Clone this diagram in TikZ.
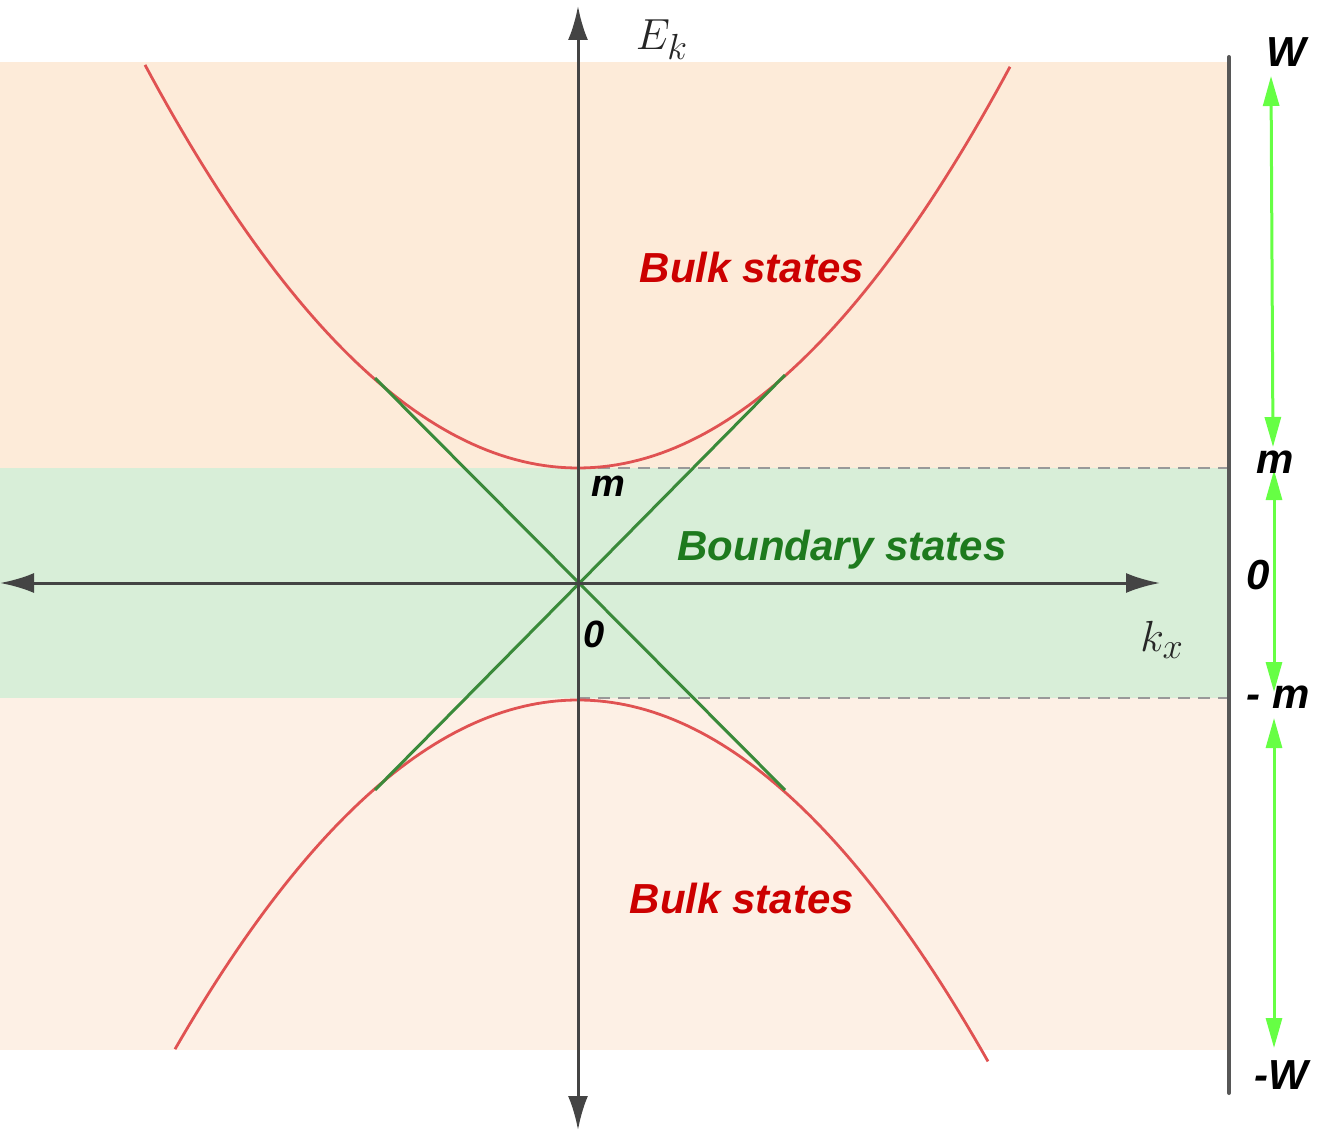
\documentclass[tikz,border=0pt]{standalone}
\usepackage{fontspec}
\setsansfont{Liberation Sans}
\usetikzlibrary{arrows.meta}
\definecolor{peachA}{HTML}{FDEBD9}
\definecolor{peachB}{HTML}{FDF0E5}
\definecolor{bandgreen}{HTML}{D8EED8}
\definecolor{curvered}{HTML}{E05252}
\definecolor{linegreen}{HTML}{3A8A3A}
\definecolor{txtred}{HTML}{CC0000}
\definecolor{txtgreen}{HTML}{1E7A1E}
\definecolor{arrgreen}{HTML}{66FF44}
\definecolor{axisgray}{HTML}{444444}
\tikzset{
  axisboth/.style={draw=axisgray, line width=3pt, {Latex[length=34pt,width=20pt]}-{Latex[length=34pt,width=20pt]}},
  bandcurve/.style={draw=curvered, line width=2.8pt},
  cone/.style={draw=linegreen, line width=3pt},
  dashline/.style={draw=gray!80, line width=2pt, dash pattern=on 12pt off 8pt},
  garrow/.style={draw=arrgreen, line width=3pt, {Triangle[length=30pt,width=16pt]}-{Triangle[length=30pt,width=16pt]}},
  bigtxt/.style={font=\sffamily\bfseries\itshape\fontsize{42}{46}\selectfont, inner sep=0pt},
  lbl/.style={font=\sffamily\bfseries\itshape\fontsize{42}{46}\selectfont, inner sep=0pt},
  smalllbl/.style={font=\sffamily\bfseries\itshape\fontsize{38}{42}\selectfont, inner sep=0pt},
  mathlbl/.style={font=\Huge, scale=1.75, inner sep=0pt, text=black!85}
}
\begin{document}
\begin{tikzpicture}[x=1pt,y=-1pt]
\useasboundingbox (0,0) rectangle (1326,1132);
% background bands
\fill[peachA] (0,62) rectangle (1228,468);
\fill[bandgreen] (0,468) rectangle (1228,698);
\fill[peachB] (0,698) rectangle (1228,1050);
% dashed levels
\coordinate (mtop) at (578,468);
\coordinate (mtopR) at (1228,468);
\coordinate (mbot) at (578,698);
\coordinate (mbotR) at (1228,698);
\draw[dashline] (mtop) -- (mtopR);
\draw[dashline] (mbot) -- (mbotR);
% bands
\draw[bandcurve] plot[domain=-433:432, samples=120] ({578+\x},{468-21.5*(\x/100)*(\x/100)});
\draw[bandcurve] plot[domain=-403:410, samples=120] ({578+\x},{700+21.5*(\x/100)*(\x/100)});
% cone
\coordinate (c1) at (375,378);
\coordinate (c2) at (785,790);
\coordinate (c3) at (375,790);
\coordinate (c4) at (785,375);
\draw[cone] (c1) -- (c2);
\draw[cone] (c3) -- (c4);
% axes
\coordinate (vtop) at (578,6);
\coordinate (vbot) at (578,1130);
\coordinate (hl) at (0,583);
\coordinate (hr) at (1160,583);
\draw[axisboth] (vbot) -- (vtop);
\draw[axisboth] (hl) -- (hr);
% right bar
\coordinate (rt) at (1229,57);
\coordinate (rb) at (1229,1093);
\draw[draw=axisgray!90, line width=4pt, line cap=round] (rt) -- (rb);
% green arrows
\coordinate (g1a) at (1271,76);
\coordinate (g1b) at (1273,447);
\coordinate (g2a) at (1274,470);
\coordinate (g2b) at (1274,692);
\coordinate (g3a) at (1274,718);
\coordinate (g3b) at (1274,1048);
\draw[garrow] (g1a) -- (g1b);
\draw[garrow] (g2a) -- (g2b);
\draw[garrow] (g3a) -- (g3b);
% labels
\node[mathlbl] (ek) at (662,40) {$E_k$};
\node[mathlbl] (kx) at (1162,640) {$k_x$};
\node[bigtxt, text=txtred] (bulk1) at (752,267) {Bulk states};
\node[bigtxt, text=txtred] (bulk2) at (742,898) {Bulk states};
\node[bigtxt, text=txtgreen] (bound) at (842,550) {Boundary states};
\node[smalllbl] (m0) at (608,486) {m};
\node[smalllbl] (z0) at (594,634) {0};
\node[lbl] (W) at (1286,52) {W};
\node[lbl] (mR) at (1275,462) {m};
\node[lbl] (zR) at (1258,575) {0};
\node[lbl] (mmR) at (1278,697) {- m};
\node[lbl] (WW) at (1281,1075) {-W};
\end{tikzpicture}
\end{document}
